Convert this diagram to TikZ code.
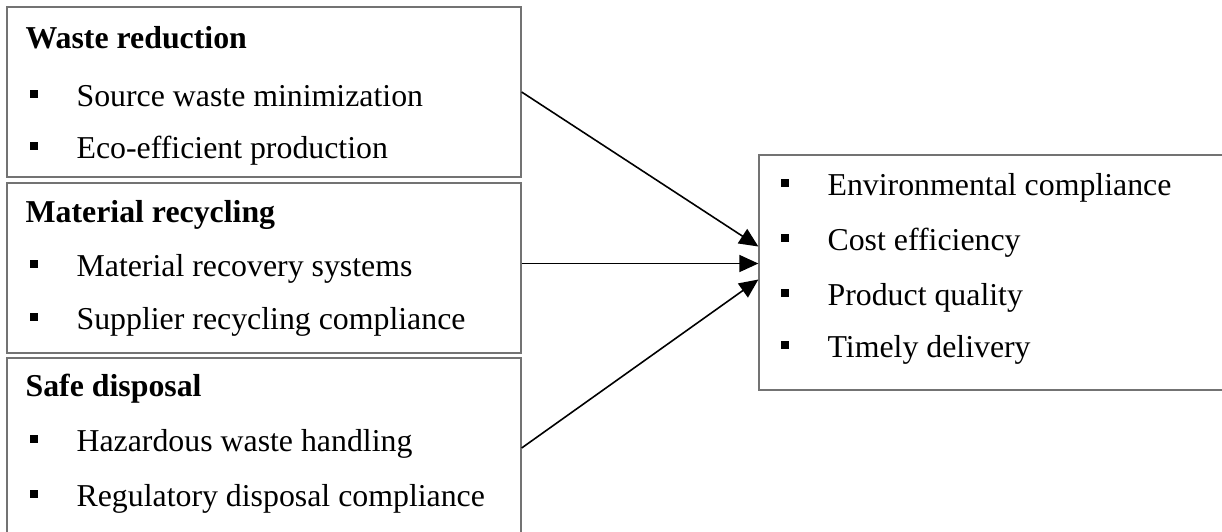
\documentclass[tikz,border=0pt]{standalone}
\usepackage{fontspec}
\setmainfont{Liberation Serif}
\usetikzlibrary{arrows.meta,calc}
\def\pix{0.3456pt}
\tikzset{ bx/.style = { rectangle % outer box
, draw = black!55
, line width = 0.45pt
, inner sep = 0pt
}
, sq/.style = { rectangle % bullet
, fill = black
, inner sep = 0pt
, minimum size = 8.5*\pix
}
, tx/.style = { anchor = base west % item text
, inner sep = 0pt
, font = \fontsize{11}{13}\selectfont
}
, hd/.style = { tx % box heading
, font = \fontsize{11}{13}\selectfont\bfseries
}
, arr/.style = { -{Triangle[length=19*\pix, width=17*\pix]}
, line width = 0.55pt
}
}
\def\itm(#1,#2)#3#4{% bullet item
\node[sq] (#3b) at (#1, #2-12) {};
\node[tx] (#3) at (#1+42, #2) {#4};
}

\begin{document}
\begin{tikzpicture}[x=\pix, y=-\pix]
  \useasboundingbox (0,0) rectangle (1222,531);
  \clip (0,0) rectangle (1222,531);
  % boxes
  \node[bx, minimum width=514*\pix, minimum height=170*\pix] (wr) at (264,92) {};
  \node[bx, minimum width=514*\pix, minimum height=170*\pix] (mr) at (264,268) {};
  \node[bx, minimum width=514*\pix, minimum height=180*\pix] (sd) at (264,448) {};
  \node[bx, minimum width=481*\pix, minimum height=235*\pix] (res) at (999.5,272.5) {};
  % headings
  \node[hd] (wrh) at (25,48) {Waste reduction};
  \node[hd] (mrh) at (25,222) {Material recycling};
  \node[hd] (sdh) at (25,396) {Safe disposal};
  % items
  \itm(34,106){wr1}{Source waste minimization}
  \itm(34,158){wr2}{Eco-efficient production}
  \itm(34,276){mr1}{Material recovery systems}
  \itm(34,329){mr2}{Supplier recycling compliance}
  \itm(34,451){sd1}{Hazardous waste handling}
  \itm(34,506){sd2}{Regulatory disposal compliance}
  \itm(785,195){res1}{Environmental compliance}
  \itm(785,250){res2}{Cost efficiency}
  \itm(785,305){res3}{Product quality}
  \itm(785,357){res4}{Timely delivery}
  % arrows
  \coordinate (t1) at ($(res.west)+(0,-26)$);
  \coordinate (t2) at ($(res.west)+(0,-9)$);
  \coordinate (t3) at ($(res.west)+(0,7)$);
  \draw[arr] (wr.east) -- (t1);
  \draw[arr] (mr.east |- t2) -- (t2);
  \draw[arr] (sd.east) -- (t3);
\end{tikzpicture}
\end{document}
